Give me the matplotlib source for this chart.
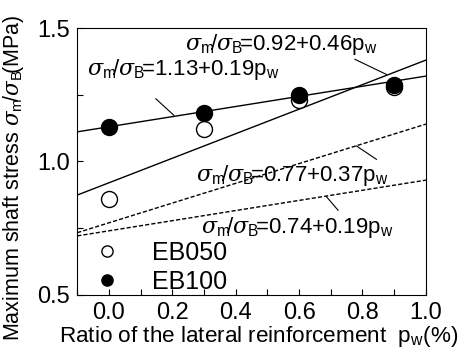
import matplotlib
matplotlib.use("Agg")
import matplotlib.pyplot as plt
import numpy as np

plt.rcParams['font.family'] = ['Liberation Sans', 'DejaVu Sans']
plt.rcParams['mathtext.fontset'] = 'custom'
plt.rcParams['mathtext.rm'] = 'Liberation Sans'
plt.rcParams['mathtext.it'] = 'DejaVu Serif:italic'

pw = [0.0, 0.3, 0.6, 0.9]
eb050 = [0.86, 1.12, 1.23, 1.28]
eb100 = [1.13, 1.18, 1.25, 1.285]

# regression lines: (intercept, slope, style)
fits = [(1.13, 0.19, '-'), (0.92, 0.46, '-'), (0.77, 0.37, '--'), (0.74, 0.19, '--')]
fit_labels = ['1.13+0.19', '0.92+0.46', '0.77+0.37', '0.74+0.19']

fig = plt.figure(figsize=(4.68, 3.51), dpi=100)
ax = fig.add_axes([0.165, 0.160, 0.745, 0.760])

xx = np.array([-0.1, 1.0])
for (a, b, ls) in fits:
    if ls == '--':
        ax.plot(xx, a + b * xx, color='black', lw=1.0, ls=(0, (3, 1.5)))
    else:
        ax.plot(xx, a + b * xx, color='black', lw=1.0, ls='-')

ax.plot(pw, eb050, 'o', ms=11.5, mfc='white', mec='black', mew=1.0, label='EB050', zorder=3)
ax.plot(pw, eb100, 'o', ms=11.5, mfc='black', mec='black', mew=1.0, label='EB100', zorder=4)

ax.set_xlim(-0.1, 1.0)
ax.set_ylim(0.5, 1.5)
ax.set_xticks([0.0, 0.2, 0.4, 0.6, 0.8, 1.0])
ax.set_xticks(np.arange(-0.1, 1.01, 0.1), minor=True)
ax.set_yticks([0.5, 1.0, 1.5])
ax.set_yticks([0.75, 1.25], minor=True)
ax.tick_params(direction='in', labelsize=17, length=4, width=0.8, pad=5)
ax.tick_params(which='minor', direction='in', length=4, width=0.8)
for s in ax.spines.values():
    s.set_linewidth(0.8)

sig = r'$\sigma_{\mathrm{m}}\!$/$\sigma_{\mathrm{B}}\!$'

def lab(i):
    return sig + '=' + fit_labels[i] + r'p$_{\mathrm{w}}$'

fs = 16
ax.text(0.24, 1.418, lab(1), fontsize=fs)
ax.text(-0.07, 1.324, lab(0), fontsize=fs)
ax.text(0.275, 0.927, lab(2), fontsize=fs)
ax.text(0.29, 0.732, lab(3), fontsize=fs)

# leader lines
for (x0, y0, x1, y1) in [(0.148, 1.235, 0.205, 1.173), (0.776, 1.383, 0.876, 1.326),
                         (0.781, 1.058, 0.844, 1.008), (0.687, 0.867, 0.723, 0.817)]:
    ax.plot([x0, x1], [y0, y1], color='black', lw=0.8)

ax.legend(loc='lower left', frameon=False, fontsize=18, handletextpad=0.8,
          borderaxespad=0.0, labelspacing=0.2, markerscale=0.7,
          bbox_to_anchor=(-0.014, -0.035))

ax.set_xlabel(r'Ratio of the lateral reinforcement  p$_{\mathrm{w}}$(%)', fontsize=16.2)
ax.xaxis.set_label_coords(0.52, -0.108)
ax.set_ylabel(r'Maximum shaft stress ' + sig + '(MPa)', fontsize=15.5)
ax.yaxis.set_label_coords(-0.148, 0.44)

fig.savefig('out.png', dpi=100)
